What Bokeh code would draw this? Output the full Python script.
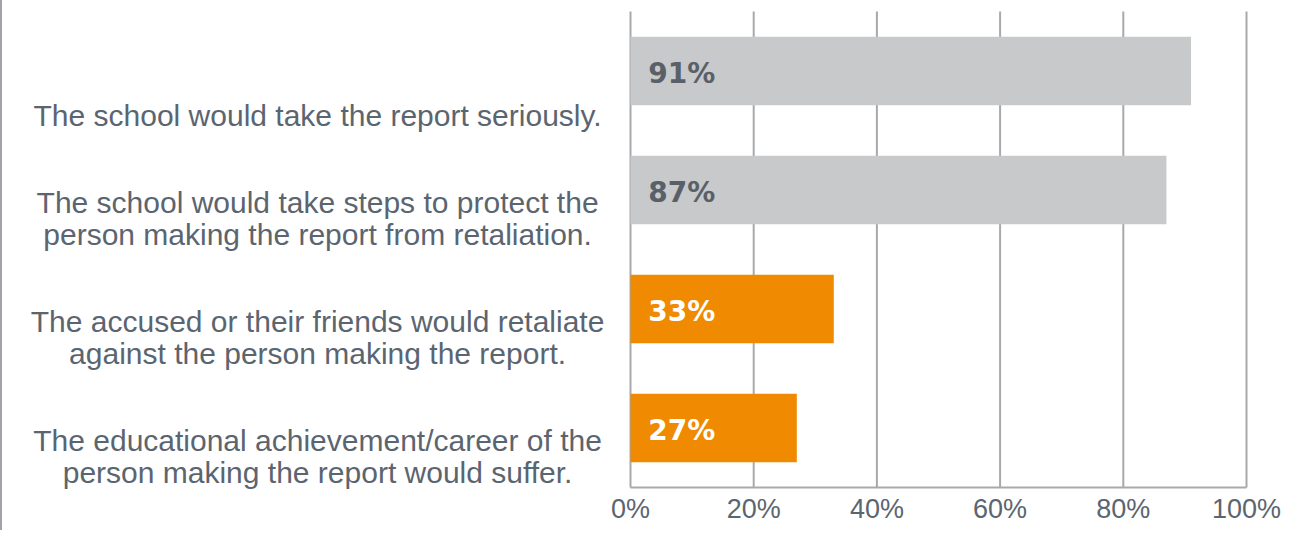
from bokeh.plotting import figure
from bokeh.models import ColumnDataSource, Range1d
from bokeh.core.properties import value
from bokeh.embed import file_html
from bokeh.resources import INLINE

# ---- data ----
categories = [
    "The school would take the report seriously.",
    "The school would take steps to protect the\nperson making the report from retaliation.",
    "The accused or their friends would retaliate\nagainst the person making the report.",
    "The educational achievement/career of the\nperson making the report would suffer.",
]
values = [91, 87, 33, 27]
value_labels = ["91%", "87%", "33%", "27%"]
tick_values = [0, 20, 40, 60, 80, 100]
tick_labels = ["0%", "20%", "40%", "60%", "80%", "100%"]

# ---- style ----
GRAY_BAR = "#c8c9cb"
ORANGE = "#f08a00"
GRID = "#a7a9ac"
TEXT = "#5b6570"
bar_colors = [GRAY_BAR, GRAY_BAR, ORANGE, ORANGE]
label_colors = ["#5a6068", "#5a6068", "#ffffff", "#ffffff"]

n = len(categories)
ypos = [n - 0.5 - i for i in range(n)]
BAR_H = 0.575

src = ColumnDataSource(dict(
    y=ypos, v=values, cat=categories, lab=value_labels,
    bc=bar_colors, lc=label_colors,
    ybot=[y - BAR_H / 2 for y in ypos],
))
ticks = ColumnDataSource(dict(x=tick_values, lab=tick_labels,
                              y0=[0] * len(tick_values),
                              y1=[n] * len(tick_values)))

W, H = 1282, 530
PX = 6.16          # pixels per percent
ZERO = 628         # canvas x of 0%
UNIT = 119         # pixels per category band
TOP = 11           # canvas y of top of grid
AXIS = TOP + n * UNIT
p = figure(width=W, height=H, output_backend="svg", toolbar_location=None,
           x_range=Range1d(-ZERO / PX, (W - ZERO) / PX),
           y_range=Range1d(-(H - AXIS) / UNIT, n + TOP / UNIT),
           min_border=0, x_axis_type=None, y_axis_type=None)
p.outline_line_color = None
p.background_fill_color = "white"
p.border_fill_color = "white"
p.grid.visible = False

# vertical grid lines at tick positions
p.segment(x0="x", x1="x", y0="y0", y1="y1", source=ticks,
          line_color=GRID, line_width=2)
# bottom axis line spanning the value range
p.segment(x0=[tick_values[0]], x1=[tick_values[-1]], y0=[0], y1=[0],
          line_color=GRID, line_width=2)
# tick labels
p.text(x="x", y="y0", text="lab", source=ticks, text_color=TEXT,
       text_font=value("Liberation Sans"), text_font_size="27px",
       text_align="center", text_baseline="top", y_offset=6)

p.hbar(y="y", left=0, right="v", height=BAR_H, fill_color="bc",
       line_color=None, source=src)

p.text(x=2.9, y="y", text="lab", text_color="lc", source=src,
       text_font=value("DejaVu Sans"), text_font_style="bold",
       text_font_size="28px", text_baseline="middle", text_align="left",
       y_offset=2)

p.text(x=-50.8, y="ybot", text="cat", source=src, text_color=TEXT,
       text_font=value("Liberation Sans"), text_font_size="30px",
       text_align="center", text_baseline="bottom", text_line_height=0.98,
       y_offset=27)

p.styles = {"border-left": "2px solid #a0a4a8"}

open("out.html", "w").write(file_html(p, INLINE))
